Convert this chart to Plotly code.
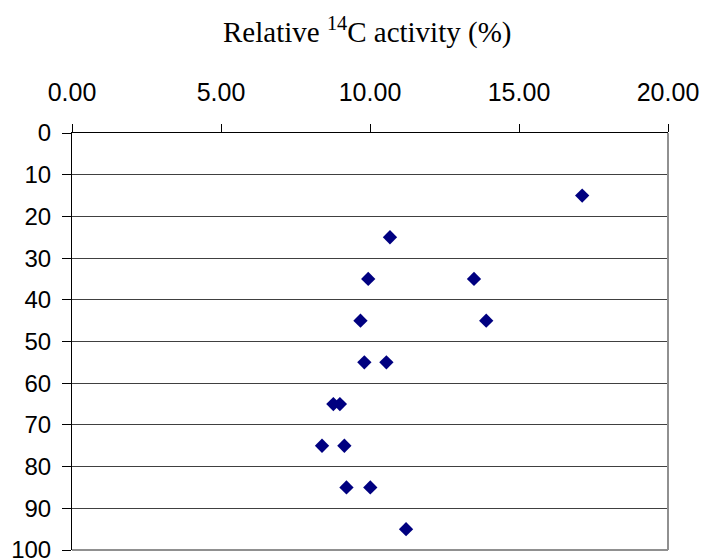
import plotly.graph_objects as go

depth = [15, 25, 35, 35, 45, 45, 55, 55, 65, 65, 75, 75, 85, 85, 95]
activity = [17.12, 10.67, 9.94, 13.49, 9.68, 13.90, 9.81, 10.55, 8.77, 8.99, 8.39, 9.14, 9.21, 10.01, 11.21]
x_ticks = [0, 5, 10, 15, 20]
x_labels = ["0.00", "5.00", "10.00", "15.00", "20.00"]
y_ticks = list(range(0, 101, 10))

fig = go.Figure()
fig.add_trace(go.Scatter(
    x=activity, y=depth, mode="markers",
    marker=dict(symbol="diamond", size=11, color="#000080", line=dict(width=0)),
    showlegend=False,
))

fig.update_layout(
    width=703, height=559,
    margin=dict(l=72, r=35, t=133, b=9, autoexpand=False),
    paper_bgcolor="white", plot_bgcolor="white",
    font=dict(family="Liberation Sans, Arial", color="black"),
    xaxis=dict(
        side="top", range=[0, 20], tickvals=x_ticks, ticktext=x_labels,
        showgrid=False, zeroline=False, automargin=False,
        showline=True, linecolor="black", linewidth=1,
        ticks="outside", ticklen=8, tickcolor="black",
        tickfont=dict(size=25, family="Liberation Sans, Arial"),
        ticklabelstandoff=13, ticklabeloverflow="allow",
    ),
    yaxis=dict(
        range=[100, 0], tickvals=y_ticks,
        showgrid=True, gridcolor="#404040", gridwidth=1,
        zeroline=False, automargin=False,
        showline=True, linecolor="black", linewidth=1,
        ticks="outside", ticklen=9, tickcolor="black",
        tickfont=dict(size=24, family="Liberation Sans, Arial"),
        ticklabelstandoff=6, ticklabeloverflow="allow",
    ),
    shapes=[
        dict(type="line", xref="paper", yref="paper", x0=1, x1=1, y0=0, y1=1,
             line=dict(color="#909090", width=2)),
        dict(type="line", xref="paper", yref="paper", x0=0, x1=1, y0=0, y1=0,
             line=dict(color="#909090", width=2)),
    ],
    annotations=[
        dict(text="Relative <sup>14</sup>C activity (%)", xref="paper", yref="paper",
             x=0.495, y=1.245, xanchor="center", yanchor="middle", showarrow=False,
             font=dict(family="Liberation Serif, Times New Roman", size=29, color="black")),
    ],
)

fig.write_html(
    "out.html",
    config={"displayModeBar": False},
    post_script="document.body.style.margin='0';document.body.style.overflow='hidden';",
)
